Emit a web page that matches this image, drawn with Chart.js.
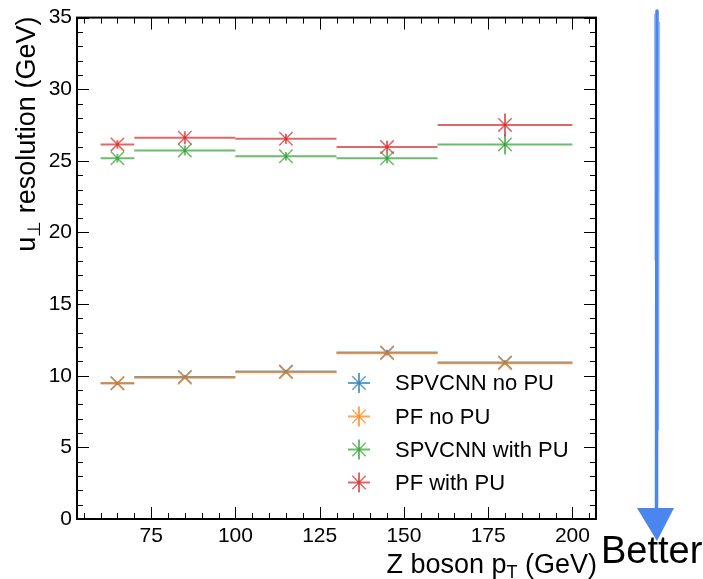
<!DOCTYPE html>
<html>
<head>
<meta charset="utf-8">
<script src="https://cdn.jsdelivr.net/npm/chart.js@4"></script>
<style>
  html, body { margin: 0; padding: 0; background: #fff; }
  #wrap { position: relative; width: 703px; height: 579px; }
</style>
</head>
<body>
<div id="wrap"><canvas id="chart" width="703" height="579"></canvas></div>
<script>
// bins in Z boson pT (GeV)
const binEdges = [60, 70, 100, 130, 160, 200];
const binCenters = [65, 85, 115, 145, 180];

const seriesNames = ['SPVCNN no PU', 'PF no PU', 'SPVCNN with PU', 'PF with PU'];
const spvcnnNoPU = [9.48, 9.92, 10.29, 11.62, 10.93];
const pfNoPU = [9.47, 9.86, 10.24, 11.57, 10.88];
const spvcnnWithPU = [25.18, 25.73, 25.32, 25.18, 26.15];
const pfWithPU = [26.15, 26.61, 26.54, 25.96, 27.51];

const spvcnnNoPUErr = [0.12, 0.12, 0.12, 0.2, 0.15];
const pfNoPUErr = [0.1, 0.1, 0.1, 0.15, 0.12];
const spvcnnWithPUErr = [0.3, 0.35, 0.3, 0.35, 0.7];
const pfWithPUErr = [0.3, 0.45, 0.35, 0.45, 0.8];

const xTicks = [75, 100, 125, 150, 175, 200];
const yTicks = [0, 5, 10, 15, 20, 25, 30, 35];

const colors = ['rgba(31,119,180,0.7)', 'rgba(255,127,14,0.7)', 'rgba(44,160,44,0.7)', 'rgba(214,39,40,0.7)'];
const FONT = '"Liberation Sans", Arial, Helvetica, sans-serif';

const allValues = [spvcnnNoPU, pfNoPU, spvcnnWithPU, pfWithPU];
const allErrors = [spvcnnNoPUErr, pfNoPUErr, spvcnnWithPUErr, pfWithPUErr];

// later series drawn on top, like the plotting order of the original
const datasets = allValues.map((vals, i) => ({
  label: seriesNames[i],
  data: vals.map((v, k) => ({ x: binCenters[k], y: v })),
  order: allValues.length - 1 - i,
  pointStyle: 'crossRot',
  pointRadius: 9.5,
  borderWidth: 1.5,
  borderColor: colors[i],
  backgroundColor: colors[i],
  showLine: false
}));

const decorPlugin = {
  id: 'decor',
  beforeDatasetsDraw(chart) {
    const ctx = chart.ctx;
    const xs = chart.scales.x, ys = chart.scales.y;
    ctx.save();
    ctx.lineWidth = 2;
    allValues.forEach((vals, i) => {
      ctx.strokeStyle = colors[i];
      vals.forEach((v, k) => {
        const py = ys.getPixelForValue(v);
        ctx.beginPath();
        ctx.moveTo(xs.getPixelForValue(binEdges[k]), py);
        ctx.lineTo(xs.getPixelForValue(binEdges[k + 1]), py);
        ctx.stroke();
        const px = xs.getPixelForValue(binCenters[k]);
        const e = allErrors[i][k];
        ctx.beginPath();
        ctx.moveTo(px, ys.getPixelForValue(v - e));
        ctx.lineTo(px, ys.getPixelForValue(v + e));
        ctx.stroke();
      });
    });
    ctx.restore();
  },
  afterDraw(chart) {
    const ctx = chart.ctx;
    const a = chart.chartArea;
    const xs = chart.scales.x, ys = chart.scales.y;
    ctx.save();

    // inward ticks on all four sides
    ctx.strokeStyle = '#000';
    ctx.lineWidth = 1;
    const tick = (len, px, isX) => {
      ctx.beginPath();
      if (isX) {
        ctx.moveTo(px, a.bottom); ctx.lineTo(px, a.bottom - len);
        ctx.moveTo(px, a.top); ctx.lineTo(px, a.top + len);
      } else {
        ctx.moveTo(a.left, px); ctx.lineTo(a.left + len, px);
        ctx.moveTo(a.right, px); ctx.lineTo(a.right - len, px);
      }
      ctx.stroke();
    };
    for (let v = 55; v <= 205; v += 5) {
      const px = Math.round(xs.getPixelForValue(v)) + 0.5;
      tick(xTicks.includes(v) ? 12 : 6, px, true);
    }
    for (let v = 0; v <= 35; v += 1) {
      const py = Math.round(ys.getPixelForValue(v)) + 0.5;
      tick(yTicks.includes(v) ? 12 : 6, py, false);
    }

    // frame
    ctx.lineWidth = 2;
    ctx.strokeRect(a.left, a.top, a.right - a.left, a.bottom - a.top);

    // legend
    const legX = 359, legY = [383, 416.5, 449.5, 482.5];
    seriesNames.forEach((name, i) => {
      const y = legY[i];
      ctx.strokeStyle = colors[i];
      ctx.lineWidth = 2;
      ctx.beginPath();
      ctx.moveTo(legX - 11, y); ctx.lineTo(legX + 11, y);
      ctx.moveTo(legX, y - 10); ctx.lineTo(legX, y + 10);
      ctx.stroke();
      ctx.lineWidth = 1.5;
      ctx.beginPath();
      ctx.moveTo(legX - 6.7, y - 6.7); ctx.lineTo(legX + 6.7, y + 6.7);
      ctx.moveTo(legX + 6.7, y - 6.7); ctx.lineTo(legX - 6.7, y + 6.7);
      ctx.stroke();
      ctx.fillStyle = '#000';
      ctx.font = '22px ' + FONT;
      ctx.textAlign = 'left';
      ctx.textBaseline = 'middle';
      ctx.fillText(name, 395, y + 1);
    });

    // x title: Z boson p_T (GeV), right aligned
    ctx.fillStyle = '#000';
    ctx.textBaseline = 'alphabetic';
    ctx.textAlign = 'left';
    const big = '27px ' + FONT, small = '18px ' + FONT;
    ctx.font = big;
    const w1 = ctx.measureText('Z boson p').width;
    const w3 = ctx.measureText(' (GeV)').width;
    ctx.font = small;
    const w2 = ctx.measureText('T').width;
    let x0 = a.right + 1 - (w1 + w2 + w3);
    const base = 573;
    ctx.font = big; ctx.fillText('Z boson p', x0, base);
    ctx.font = small; ctx.fillText('T', x0 + w1, base + 5);
    ctx.font = big; ctx.fillText(' (GeV)', x0 + w1 + w2, base);

    // y title: u_perp resolution (GeV), rotated, ending at top
    ctx.translate(35, a.top - 1);
    ctx.rotate(-Math.PI / 2);
    ctx.font = big;
    const u1 = ctx.measureText('u').width;
    const u3 = ctx.measureText(' resolution (GeV)').width;
    ctx.font = small;
    const u2 = ctx.measureText('\u22A5').width;
    const s = -(u1 + u2 + u3);
    ctx.font = big; ctx.fillText('u', s, 0);
    ctx.font = small; ctx.fillText('\u22A5', s + u1, 5);
    ctx.font = big; ctx.fillText(' resolution (GeV)', s + u1 + u2, 0);
    ctx.setTransform(1, 0, 0, 1, 0, 0);

    // "Better" arrow, hand-drawn look
    const blue = '#4a86ee';
    ctx.strokeStyle = blue;
    ctx.lineCap = 'round';
    ctx.lineWidth = 3.5;
    ctx.beginPath();
    ctx.moveTo(657, 11); ctx.lineTo(656.5, 512);
    ctx.stroke();
    ctx.lineWidth = 1.2;
    ctx.strokeStyle = 'rgba(74,134,238,0.55)';
    ctx.beginPath();
    ctx.moveTo(654.5, 14); ctx.lineTo(655, 260);
    ctx.moveTo(659.5, 22); ctx.lineTo(658.5, 430);
    ctx.stroke();
    ctx.fillStyle = blue;
    ctx.beginPath();
    ctx.moveTo(637, 508);
    ctx.lineTo(674, 508);
    ctx.lineTo(657, 541);
    ctx.closePath();
    ctx.fill();

    ctx.fillStyle = '#000';
    ctx.font = '38px ' + FONT;
    ctx.textAlign = 'left';
    ctx.textBaseline = 'alphabetic';
    ctx.fillText('Better', 601, 563);

    ctx.restore();
  }
};

new Chart(document.getElementById('chart').getContext('2d'), {
  type: 'scatter',
  data: { datasets },
  options: {
    responsive: false,
    animation: false,
    events: [],
    layout: { padding: { top: 14, right: 107, left: 0, bottom: 0 } },
    plugins: { legend: { display: false }, tooltip: { enabled: false } },
    scales: {
      x: {
        type: 'linear',
        min: 53,
        max: 207,
        afterBuildTicks: s => { s.ticks = xTicks.map(v => ({ value: v })); },
        afterFit: s => { s.height = 60; },
        grid: { display: false, drawTicks: false },
        border: { display: false },
        ticks: { color: '#000', padding: 5, maxRotation: 0, font: { family: FONT, size: 21 } }
      },
      y: {
        type: 'linear',
        min: 0,
        max: 35,
        afterBuildTicks: s => { s.ticks = yTicks.map(v => ({ value: v })); },
        afterFit: s => { s.width = 77; },
        grid: { display: false, drawTicks: false },
        border: { display: false },
        ticks: { color: '#000', padding: 5, font: { family: FONT, size: 21 } }
      }
    }
  },
  plugins: [decorPlugin]
});
</script>
</body>
</html>
